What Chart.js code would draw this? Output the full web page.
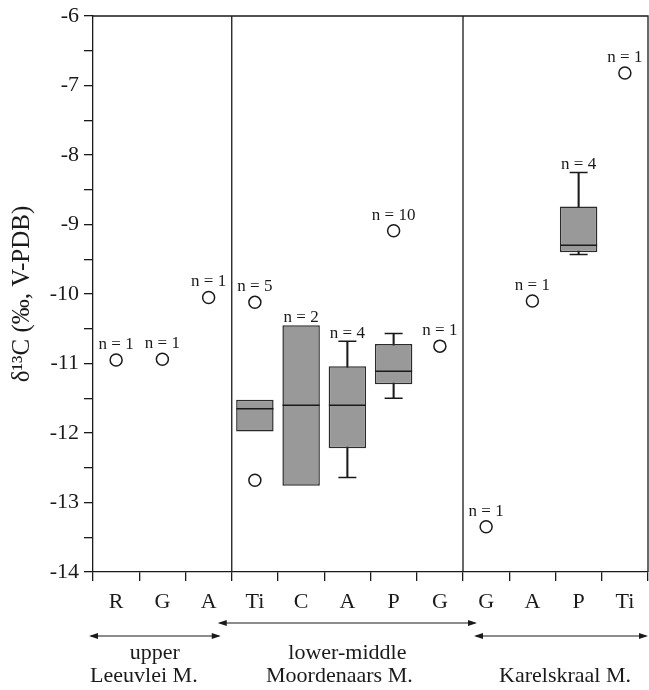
<!DOCTYPE html>
<html>
<head>
<meta charset="utf-8">
<script src="https://cdn.jsdelivr.net/npm/chart.js@4.4.0/dist/chart.umd.min.js"></script>
<style>
  html, body { margin: 0; padding: 0; background: #fff; }
  #wrap { width: 649px; height: 690px; }
</style>
</head>
<body>
<div id="wrap"><canvas id="d13c"></canvas></div>
<script>
// values (per mill, V-PDB)
const categories  = ['R', 'G', 'A', 'Ti', 'C', 'A', 'P', 'G', 'G', 'A', 'P', 'Ti'];
const nCounts     = [1, 1, 1, 5, 2, 4, 10, 1, 1, 1, 4, 1];
const boxLow      = [null, null, null, -11.98, -12.76, -12.22, -11.30, null, null, null, -9.40, null];
const boxHigh     = [null, null, null, -11.52, -10.45, -11.04, -10.72, null, null, null, -8.74, null];
const medians     = [null, null, null, -11.65, -11.60, -11.60, -11.11, null, null, null, -9.30, null];
const whiskerLow  = [null, null, null, null, null, -12.64, -11.50, null, null, null, -9.43, null];
const whiskerHigh = [null, null, null, null, null, -10.68, -10.57, null, null, null, -8.25, null];
const singles     = [-10.95, -10.94, -10.05, -10.12, null, null, -9.09, -10.75, -13.35, -10.10, null, -6.82];
const outliers    = [null, null, null, -12.68, null, null, null, null, null, null, null, null];
const groupSizes  = [3, 5, 4];
const groupLines  = [['upper', 'Leeuvlei M.'], ['lower-middle', 'Moordenaars M.'], ['', 'Karelskraal M.']];
const yMin = -14, yMax = -6, yStep = 0.5;

const FONT = "'Liberation Serif', 'Times New Roman', serif";
const INK = '#1a1a1a';

const boxes = categories.map((c, i) => boxLow[i] === null ? null : [boxLow[i], boxHigh[i]]);
const stems = categories.map((c, i) => whiskerLow[i] === null ? null : [whiskerLow[i], whiskerHigh[i]]);

function pointSet(data, style, radius) {
    return {
        type: 'line',
        data: data,
        showLine: false,
        pointStyle: style,
        pointRadius: radius,
        pointHoverRadius: radius,
        pointBackgroundColor: '#ffffff',
        pointBorderColor: INK,
        pointBorderWidth: 1.5,
        order: 1
    };
}

function arrow(ctx, x1, x2, y) {
    const L = 9, W = 3;
    ctx.beginPath();
    ctx.moveTo(x1 + 2, y);
    ctx.lineTo(x2 - 2, y);
    ctx.stroke();
    ctx.beginPath();
    ctx.moveTo(x1, y); ctx.lineTo(x1 + L, y - W); ctx.lineTo(x1 + L, y + W); ctx.closePath();
    ctx.moveTo(x2, y); ctx.lineTo(x2 - L, y - W); ctx.lineTo(x2 - L, y + W); ctx.closePath();
    ctx.fill();
}

const decorations = {
    id: 'decorations',
    afterDraw(chart) {
        const ctx = chart.ctx;
        const a = chart.chartArea;
        const x = chart.scales.x, y = chart.scales.y;
        ctx.save();
        ctx.strokeStyle = INK;
        ctx.fillStyle = INK;
        ctx.lineWidth = 1.3;

        // top and right frame
        ctx.beginPath();
        ctx.moveTo(a.left, a.top); ctx.lineTo(a.right, a.top); ctx.lineTo(a.right, a.bottom);
        ctx.stroke();

        // formation dividers
        let edges = [0];
        groupSizes.forEach(s => edges.push(edges[edges.length - 1] + s));
        const px = edges.map(e => x.getPixelForValue(e - 0.5));
        ctx.beginPath();
        for (let k = 1; k < px.length - 1; k++) {
            ctx.moveTo(px[k], a.top); ctx.lineTo(px[k], a.bottom);
        }
        ctx.stroke();

        // n = labels above the highest mark of each category
        ctx.font = '17px ' + FONT;
        ctx.textAlign = 'center';
        ctx.textBaseline = 'alphabetic';
        categories.forEach((c, i) => {
            let top = null, gap = 0;
            [[singles[i], 11], [outliers[i], 11], [whiskerHigh[i], 3], [boxHigh[i], 3]].forEach(([v, g]) => {
                if (v !== null && (top === null || v > top)) { top = v; gap = g; }
            });
            ctx.fillText('n = ' + nCounts[i], x.getPixelForValue(i), y.getPixelForValue(top) - gap);
        });

        // formation arrows and names
        ctx.lineWidth = 1.2;
        const spans = [
            [px[0] - 4, px[1] - 11, 636, [0, -11]],
            [px[1] - 14, px[2] + 14, 623, [0, -8]],
            [px[2] + 11, px[3], 636, [0, 4]]
        ];
        ctx.font = '22px ' + FONT;
        ctx.textBaseline = 'middle';
        spans.forEach(([x1, x2, ay, off], g) => {
            arrow(ctx, x1, x2, ay);
            const cx = (x1 + x2) / 2;
            if (groupLines[g][0]) ctx.fillText(groupLines[g][0], cx + off[0], 653);
            ctx.fillText(groupLines[g][1], cx + off[1], 676);
        });
        ctx.restore();
    }
};

new Chart(document.getElementById('d13c'), {
    data: {
        labels: categories,
        datasets: [
            { type: 'bar', data: stems, backgroundColor: INK, barThickness: 1.4, grouped: false, order: 5 },
            { type: 'bar', data: boxes, backgroundColor: '#999999', borderColor: '#2b2b2b', borderWidth: 1.5,
              borderSkipped: false, barPercentage: 0.81, categoryPercentage: 1, grouped: false, order: 4 },
            pointSet(medians, 'line', 18.5),
            pointSet(whiskerHigh, 'line', 9),
            pointSet(whiskerLow, 'line', 9),
            pointSet(singles, 'circle', 6),
            pointSet(outliers, 'circle', 6)
        ]
    },
    options: {
        responsive: true,
        maintainAspectRatio: false,
        animation: false,
        events: [],
        layout: { autoPadding: false, padding: { top: 16, right: 1, left: 0, bottom: 0 } },
        plugins: { legend: { display: false }, tooltip: { enabled: false } },
        scales: {
            x: {
                type: 'category',
                offset: true,
                grid: { offset: true, drawOnChartArea: false, tickLength: 9, color: INK, lineWidth: 1.3 },
                border: { color: INK, width: 1.3 },
                ticks: { font: { family: FONT, size: 22 }, color: INK, padding: 8, autoSkip: false, maxRotation: 0 },
                afterFit(s) { s.height = 118; s.paddingLeft = 0; s.paddingRight = 0; }
            },
            y: {
                min: yMin,
                max: yMax,
                grid: { drawOnChartArea: false, tickLength: 9, color: INK, lineWidth: 1.3 },
                border: { color: INK, width: 1.3 },
                ticks: {
                    stepSize: yStep,
                    autoSkip: false,
                    padding: 5,
                    color: INK,
                    font: { family: FONT, size: 22 },
                    callback: v => Number.isInteger(v) ? String(v) : ''
                },
                title: {
                    display: true,
                    text: 'δ¹³C (‰, V-PDB)',
                    color: INK,
                    font: { family: FONT, size: 25 },
                    padding: { top: 7, bottom: 0 }
                },
                afterFit(s) { s.width = 93; s.paddingTop = 0; s.paddingBottom = 0; }
            }
        }
    },
    plugins: [decorations]
});
</script>
</body>
</html>
